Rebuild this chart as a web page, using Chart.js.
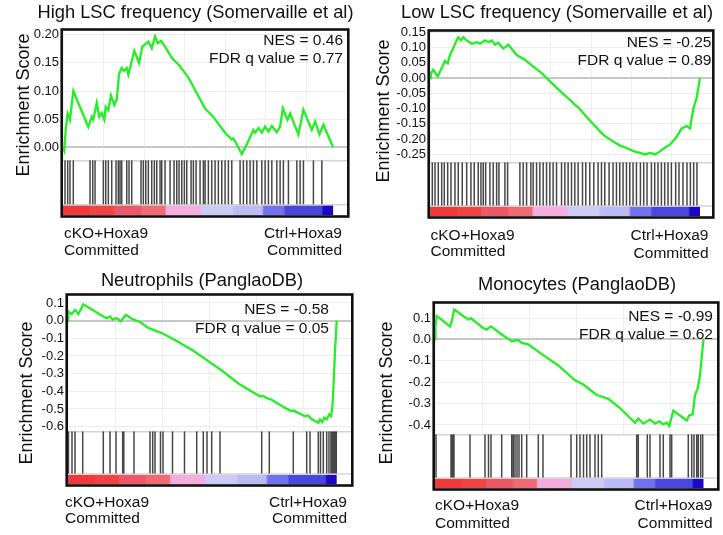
<!DOCTYPE html>
<html>
<head>
<meta charset="utf-8">
<title>GSEA enrichment plots</title>
<script src="https://cdn.jsdelivr.net/npm/chart.js@4.4.1/dist/chart.umd.min.js"></script>
<style>
  body { margin: 0; background: #fff; }
  #fig { position: relative; width: 723px; height: 535px; overflow: hidden;
         font-family: 'Liberation Sans', Arial, Helvetica, sans-serif; color: #111; }
  #fig canvas { position: absolute; }
  .txt { position: absolute; white-space: nowrap; line-height: 1; }
</style>
</head>
<body>
<div id="fig"></div>
<script>
// Running enrichment score curves.
// x = position in the ranked gene list, y = running ES, hits = gene set members.

// High LSC frequency (Somervaille et al)
const lscHighRank = [0, 60, 127, 221, 329, 485, 1191, 1351, 1426, 1586, 1708, 1821, 1944, 2009, 2132, 2259, 2414, 2527, 2635, 2762, 2871, 2998, 3073, 3355, 3577, 3732, 3859, 4014, 4174, 4330, 4457, 4612, 4800, 5115, 5506, 5897, 6683, 7073, 7624, 7939, 8015, 8410, 8565, 8956, 9036, 9191, 9351, 9506, 9662, 9822, 10057, 10212, 10339, 10556, 10683, 11073, 11309, 11704, 11859, 12062, 12250, 12706];
const lscHighES = [0, -0.006, 0.031, 0.060, 0.049, 0.100, 0.036, 0.054, 0.049, 0.079, 0.054, 0.061, 0.049, 0.072, 0.066, 0.092, 0.075, 0.085, 0.130, 0.141, 0.136, 0.141, 0.129, 0.172, 0.150, 0.179, 0.183, 0.188, 0.176, 0.197, 0.185, 0.189, 0.179, 0.159, 0.144, 0.124, 0.069, 0.054, 0.026, 0.014, 0.016, -0.012, -0.001, 0.031, 0.026, 0.034, 0.026, 0.037, 0.028, 0.038, 0.027, 0.037, 0.069, 0.049, 0.060, 0.023, 0.067, 0.031, 0.046, 0.023, 0.040, 0.000];
const lscHighHits = [94, 221, 329, 485, 1271, 1398, 1506, 1897, 2009, 2132, 2292, 2494, 2602, 2682, 2762, 2998, 3106, 3233, 3671, 3779, 3892, 4014, 4174, 4297, 4410, 4565, 4645, 4800, 5035, 5224, 5351, 5459, 5586, 5708, 5821, 6024, 6132, 6259, 6447, 6603, 6683, 6838, 6998, 7153, 7308, 7468, 7624, 7779, 7939, 8330, 8485, 8645, 8800, 8956, 9116, 9351, 9506, 9662, 9822, 10057, 10212, 10367, 10603, 10998, 11153, 11309, 11779, 12174];
const lscHighTicks = [0, 0.05, 0.10, 0.15, 0.20];

// Low LSC frequency (Somervaille et al)
const lscLowRank = [0, 47, 155, 362, 579, 706, 833, 941, 1097, 1257, 1332, 1459, 1567, 1727, 1962, 2198, 2353, 2588, 2744, 2904, 3059, 3214, 3449, 3685, 4080, 4471, 4861, 5257, 5647, 6038, 6588, 6824, 6979, 7374, 7765, 8156, 8626, 8941, 9257, 9567, 9883, 10119, 10353, 10589, 10824, 11139, 11295, 11610, 11845, 12080, 12236, 12391, 12551, 12706];
const lscLowES = [0, 0.016, 0.027, 0.005, 0.037, 0.056, 0.048, 0.075, 0.098, 0.123, 0.133, 0.123, 0.133, 0.123, 0.112, 0.117, 0.112, 0.123, 0.117, 0.123, 0.109, 0.115, 0.096, 0.109, 0.075, 0.059, 0.037, 0.016, -0.011, -0.037, -0.072, -0.088, -0.096, -0.128, -0.157, -0.186, -0.208, -0.221, -0.229, -0.239, -0.245, -0.250, -0.245, -0.250, -0.240, -0.224, -0.218, -0.192, -0.165, -0.157, -0.165, -0.101, -0.064, 0.000];
const lscLowHits = [108, 235, 390, 550, 672, 832, 987, 1175, 1330, 1518, 1725, 1927, 2082, 2270, 2397, 2505, 2618, 2820, 2975, 3135, 3243, 3525, 3652, 4230, 4385, 4545, 4747, 4855, 5015, 5170, 5325, 5485, 5640, 5795, 5955, 6190, 6345, 6500, 6660, 6815, 6970, 7177, 7332, 7520, 7708, 7910, 8070, 8225, 8427, 8615, 8775, 8930, 9085, 9245, 9400, 9555, 9715, 9903, 10058, 10213, 10420, 10575, 10730, 10890, 11045, 11200, 11360, 11562, 11717, 11905, 12093, 12253, 12408, 12563];
const lscLowTicks = [0.15, 0.10, 0.05, 0, -0.05, -0.10, -0.15, -0.20, -0.25];

// Neutrophils (PanglaoDB)
const neutroRank = [0, 13, 158, 300, 441, 655, 1511, 1656, 1798, 1913, 2084, 2256, 2482, 2726, 3082, 3437, 3796, 4079, 4652, 5363, 6078, 6578, 7289, 8218, 8359, 8504, 8718, 9288, 9574, 9643, 10144, 10285, 10430, 10713, 10786, 10884, 10970, 11072, 11171, 11256, 11312, 11355, 11428, 11500];
const neutroES = [0, 0.052, 0.037, 0.061, 0.037, 0.092, 0.024, 0.014, 0.024, 0.006, 0.014, -0.004, 0.033, 0.011, -0.008, -0.041, -0.059, -0.074, -0.115, -0.171, -0.236, -0.282, -0.356, -0.430, -0.426, -0.439, -0.448, -0.494, -0.513, -0.508, -0.541, -0.537, -0.559, -0.578, -0.559, -0.574, -0.550, -0.559, -0.532, -0.541, -0.494, -0.393, -0.171, 0.000];
const neutroHits = [21, 171, 300, 629, 1511, 1798, 2054, 2341, 2388, 2825, 3510, 3625, 3724, 3959, 4066, 4473, 4986, 5508, 5791, 5949, 6150, 6506, 8290, 8616, 9643, 10216, 10358, 10713, 10807, 10927, 11072, 11171, 11256, 11321, 11363, 11406, 11449, 11483];
const neutroTicks = [0.1, 0, -0.1, -0.2, -0.3, -0.4, -0.5, -0.6];

// Monocytes (PanglaoDB)
const monoRank = [0, 20, 73, 642, 715, 826, 1426, 1541, 2067, 2213, 2397, 2855, 3283, 3565, 3711, 3993, 4567, 5277, 5992, 6347, 6921, 7417, 7918, 8560, 8701, 8915, 9202, 9416, 9600, 9771, 9917, 10028, 10199, 10773, 10884, 11030, 11128, 11244, 11342, 11415, 11492];
const monoES = [0, 0.061, 0.110, 0.061, 0.084, 0.140, 0.092, 0.099, 0.053, 0.046, 0.061, 0.023, -0.008, -0.003, -0.016, -0.023, -0.069, -0.122, -0.191, -0.211, -0.260, -0.278, -0.321, -0.390, -0.370, -0.394, -0.375, -0.394, -0.383, -0.398, -0.390, -0.405, -0.333, -0.379, -0.355, -0.350, -0.260, -0.229, -0.168, -0.084, 0.000];
const monoHits = [43, 685, 749, 813, 1498, 2140, 2290, 2397, 2855, 3283, 3351, 3424, 3510, 3595, 3711, 3925, 4421, 4622, 5821, 6065, 6206, 6356, 6493, 6634, 6848, 6989, 7135, 8633, 8701, 9086, 9202, 9630, 9771, 10058, 10131, 10841, 10987, 11085, 11201, 11269, 11372, 11458];
const monoTicks = [0.1, 0, -0.1, -0.2, -0.3, -0.4];

const titles = ['High LSC frequency (Somervaille et al)', 'Low LSC frequency (Somervaille et al)', 'Neutrophils (PanglaoDB)', 'Monocytes (PanglaoDB)'];
const nes = [0.46, -0.25, -0.58, -0.99];
const fdr = [0.77, 0.89, 0.05, 0.62];
const groupLeft = ['cKO+Hoxa9', 'Committed'];
const groupRight = ['Ctrl+Hoxa9', 'Committed'];

// ranked list metric colour bar: block edges (fraction of list) and colours
const barStops = [0, 0.10, 0.19, 0.29, 0.38, 0.51, 0.63, 0.74, 0.82, 0.96, 1];
const barColors = ['#ee3a3a', '#f04444', '#ec5868', '#f06a74', '#f4aede', '#cbcbf6', '#babaf4', '#7272ec', '#4a46e0', '#1a08c4'];

// page layout per panel (pixels), axis ranges
const layout = [
  { box: [63, 29, 347, 217], split: 161, yMin: -0.023, yMax: 0.207, xMax: 13358, dec: 2,
    title: [195.5, 19], yTitle: [23, 104.5], stats: [343, 45, 63], groups: [64, 342, 238, 255, 238, 255] },
  { box: [430, 30, 712, 218], split: 163, yMin: -0.2755, yMax: 0.151, xMax: 13271, dec: 2,
    title: [557, 18.5], yTitle: [383, 111], stats: [711.5, 47, 65], groups: [430.5, 708.5, 240, 256, 240, 258] },
  { box: [68, 294, 351, 486], split: 432, yMin: -0.626, yMax: 0.1406, xMax: 12112, dec: 1,
    title: [202, 287], yTitle: [25.5, 393], stats: [329, 314, 333], groups: [65, 347, 507, 523, 507, 523] },
  { box: [435, 302, 717, 490], split: 435, yMin: -0.4436, yMax: 0.1665, xMax: 12070, dec: 1,
    title: [577, 291], yTitle: [385.5, 393], stats: [713, 321, 339], groups: [435, 712.5, 510, 528, 510, 528] }
];

const FONT = "'Liberation Sans', Arial, Helvetica, sans-serif";
const fig = document.getElementById('fig');

// white hit strip, colour bar and separators; thick frame on top
const panelDecor = {
  id: 'panelDecor',
  beforeDatasetsDraw(chart, args, opts) {
    const { ctx, chartArea: a, scales: { x, h } } = chart;
    ctx.save();
    ctx.fillStyle = '#fff';
    ctx.fillRect(a.left, h.top, a.right - a.left, h.bottom - h.top);
    const x0 = x.getPixelForValue(0), x1 = x.getPixelForValue(opts.n);
    const yTop = h.getPixelForValue(0.18), yBot = h.getPixelForValue(0);
    const grad = ctx.createLinearGradient(x0, 0, x1, 0);
    barColors.forEach((c, k) => {
      grad.addColorStop(Math.min(1, barStops[k] + 0.004), c);
      grad.addColorStop(Math.max(0, barStops[k + 1] - 0.004), c);
    });
    ctx.fillStyle = grad;
    ctx.fillRect(x0, yTop, x1 - x0, yBot - yTop);
    ctx.strokeStyle = '#d4d4d4';
    ctx.lineWidth = 1.5;
    [h.top + 0.5, h.getPixelForValue(0.2) + 0.5].forEach(y => {
      ctx.beginPath(); ctx.moveTo(a.left, y); ctx.lineTo(a.right, y); ctx.stroke();
    });
    ctx.restore();
  },
  afterDraw(chart) {
    const { ctx, chartArea: a } = chart;
    ctx.save();
    ctx.strokeStyle = '#111';
    ctx.lineWidth = 2.6;
    ctx.strokeRect(a.left - 1.3, a.top - 1.3, a.right - a.left + 2.6, a.bottom - a.top + 2.6);
    ctx.restore();
  }
};

function drawPanel(i, rank, es, hits, ticks) {
  const L = layout[i];
  const [l, t, r, b] = L.box;
  const AXW = 46, PAD = 10;
  const cv = document.createElement('canvas');
  cv.width = AXW + (r - l) + PAD;
  cv.height = (b - t) + 2 * PAD;
  cv.style.left = (l - AXW) + 'px';
  cv.style.top = (t - PAD) + 'px';
  fig.appendChild(cv);

  new Chart(cv, {
    type: 'line',
    data: {
      datasets: [
        { data: rank.map((x, k) => ({ x, y: es[k] })), yAxisID: 'y',
          borderColor: '#22f022', borderWidth: 2.3, pointRadius: 0 },
        { data: hits.flatMap(x => [{ x, y: 0.2 }, { x, y: 1 }, { x, y: null }]), yAxisID: 'h',
          borderColor: 'rgba(0,0,0,0.72)', borderWidth: 1.5, pointRadius: 0, spanGaps: false }
      ]
    },
    options: {
      responsive: false, animation: false, devicePixelRatio: 1, events: [],
      layout: { padding: { left: 0, top: PAD, right: PAD, bottom: PAD } },
      plugins: { legend: { display: false }, tooltip: { enabled: false }, panelDecor: { n: rank[rank.length - 1] } },
      scales: {
        x: { type: 'linear', min: 0, max: L.xMax,
             ticks: { display: false, stepSize: 2000 },
             grid: { color: '#efefef', drawTicks: false }, border: { display: false },
             afterFit: s => { s.height = 0; } },
        y: { type: 'linear', position: 'left', stack: 'gsea', stackWeight: L.split - t, weight: 2,
             min: L.yMin, max: L.yMax,
             afterBuildTicks: s => { s.ticks = ticks.map(v => ({ value: v })); },
             afterFit: s => { s.width = AXW; },
             ticks: { autoSkip: false, callback: v => v.toFixed(L.dec), font: { family: FONT, size: 13 }, color: '#111', padding: 4 },
             grid: { drawTicks: false,
                     color: c => c.tick && c.tick.value === 0 ? '#c8c8c8' : '#ececec',
                     lineWidth: c => c.tick && c.tick.value === 0 ? 2 : 1 },
             border: { display: false } },
        h: { type: 'linear', position: 'left', stack: 'gsea', stackWeight: b - L.split, weight: 1,
             min: 0, max: 1,
             afterFit: s => { s.width = AXW; },
             ticks: { display: false }, grid: { display: false }, border: { display: false } }
      }
    },
    plugins: [panelDecor]
  });
}

function addText(str, x, base, size, align) {
  const d = document.createElement('div');
  d.className = 'txt';
  d.textContent = str;
  d.style.fontSize = size + 'px';
  d.style.top = (base - 0.85 * size) + 'px';
  if (align === 'right') d.style.right = (723 - x) + 'px';
  else d.style.left = x + 'px';
  if (align === 'center') d.style.transform = 'translateX(-50%)';
  fig.appendChild(d);
}

function addVText(str, cx, cy, size) {
  const d = document.createElement('div');
  d.className = 'txt';
  d.textContent = str;
  d.style.fontSize = size + 'px';
  d.style.left = cx + 'px';
  d.style.top = cy + 'px';
  d.style.transform = 'translate(-50%, -50%) rotate(-90deg)';
  fig.appendChild(d);
}

drawPanel(0, lscHighRank, lscHighES, lscHighHits, lscHighTicks);
drawPanel(1, lscLowRank, lscLowES, lscLowHits, lscLowTicks);
drawPanel(2, neutroRank, neutroES, neutroHits, neutroTicks);
drawPanel(3, monoRank, monoES, monoHits, monoTicks);

layout.forEach((L, i) => {
  addText(titles[i], L.title[0], L.title[1], 18.3, 'center');
  addVText('Enrichment Score', L.yTitle[0], L.yTitle[1], 18);
  addText('NES = ' + nes[i].toFixed(2), L.stats[0], L.stats[1], 15.5, 'right');
  addText('FDR q value = ' + fdr[i].toFixed(2), L.stats[0], L.stats[2], 15.5, 'right');
  const g = L.groups;
  addText(groupLeft[0], g[0], g[2], 15.5, 'left');
  addText(groupLeft[1], g[0], g[3], 15.5, 'left');
  addText(groupRight[0], g[1], g[4], 15.5, 'right');
  addText(groupRight[1], g[1], g[5], 15.5, 'right');
});
</script>
</body>
</html>
